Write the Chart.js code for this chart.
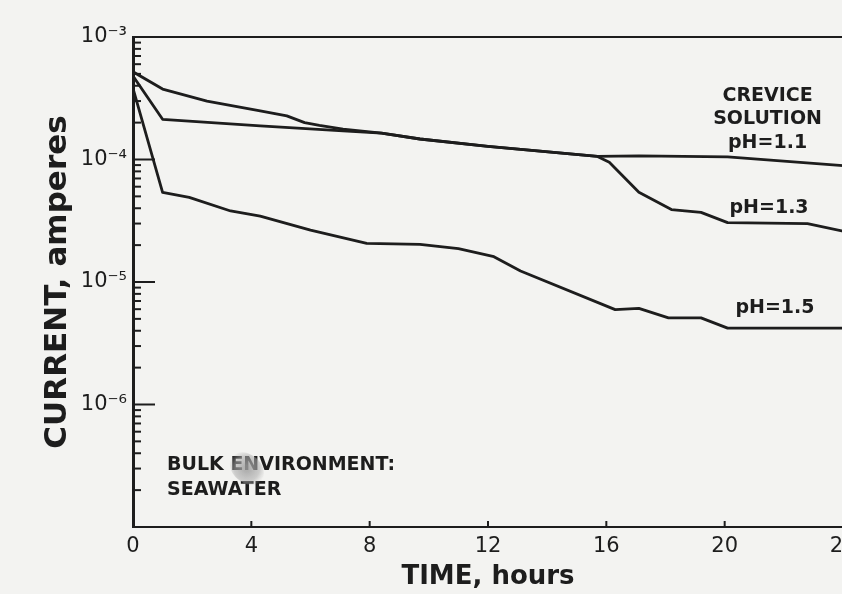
<!DOCTYPE html>
<html>
<head>
<meta charset="utf-8">
<script src="https://cdn.jsdelivr.net/npm/chart.js@4.4.1/dist/chart.umd.min.js"></script>
<style>
  html, body { margin: 0; padding: 0; background: #f3f3f1; overflow: hidden; }
  #wrap { width: 880px; height: 594px; }
</style>
</head>
<body>
<div id="wrap"><canvas id="chart" width="880" height="594"></canvas></div>
<script>
// crevice current vs. time, three crevice solutions (pH 1.1 / 1.3 / 1.5)
const hours11 = [0, 1, 4.3, 7.1, 8.4, 9.7, 12, 15.7, 17.1, 20.1, 24];
const amps11 = [4.8e-4, 2.13e-4, 1.88e-4, 1.71e-4, 1.64e-4, 1.47e-4, 1.28e-4, 1.06e-4, 1.07e-4, 1.05e-4, 8.9e-5];

const hours13 = [0, 1, 2.5, 4.3, 5.2, 5.8, 6.3, 7.1, 8.4, 9.7, 12, 15.7, 16.1, 17.1, 18.2, 19.2, 20.1, 22.8, 24];
const amps13 = [5.2e-4, 3.76e-4, 3.0e-4, 2.49e-4, 2.27e-4, 2.0e-4, 1.9e-4, 1.77e-4, 1.64e-4, 1.47e-4, 1.28e-4, 1.06e-4, 9.5e-5, 5.4e-5, 3.9e-5, 3.7e-5, 3.05e-5, 3.0e-5, 2.6e-5];

const hours15 = [0, 1, 1.9, 3.3, 4.3, 6.0, 7.9, 9.7, 11.0, 12.2, 13.1, 16.3, 17.1, 18.1, 19.2, 20.1, 24];
const amps15 = [3.8e-4, 5.4e-5, 4.9e-5, 3.8e-5, 3.45e-5, 2.65e-5, 2.07e-5, 2.03e-5, 1.87e-5, 1.61e-5, 1.23e-5, 5.95e-6, 6.1e-6, 5.1e-6, 5.1e-6, 4.2e-6, 4.2e-6];

const xTicks = [0, 4, 8, 12, 16, 20, 24];
const yDecades = [1e-7, 1e-6, 1e-5, 1e-4, 1e-3];
const yMantissas = [2, 3, 4, 5, 6, 7, 8, 9];

const INK = '#1d1d1d';
const FONT = "'DejaVu Sans', sans-serif";

const supers = { '-': '\u207B', '0': '\u2070', '1': '\u00B9', '2': '\u00B2', '3': '\u00B3',
  '4': '\u2074', '5': '\u2075', '6': '\u2076', '7': '\u2077', '8': '\u2078', '9': '\u2079' };

// the bottom decade carries a tick but no label
function decadeLabel(v) {
  const e = Math.round(Math.log10(v));
  if (e <= -7) return '';
  return '10' + String(e).split('').map(c => supers[c]).join('');
}

function toPoints(xs, ys) {
  return xs.map((x, i) => ({ x: x, y: ys[i] }));
}

// lettering placed in data coordinates (hours, amperes)
const notes = [
  { text: 'CREVICE', h: 21.45, a: 3.29e-4, align: 'center' },
  { text: 'SOLUTION', h: 21.45, a: 2.13e-4, align: 'center' },
  { text: 'pH=1.1', h: 21.45, a: 1.36e-4, align: 'center' },
  { text: 'pH=1.3', h: 21.5, a: 4.03e-5, align: 'center' },
  { text: 'pH=1.5', h: 21.7, a: 6.07e-6, align: 'center' },
  { text: 'BULK ENVIRONMENT:', h: 1.15, a: 3.21e-7, align: 'left' },
  { text: 'SEAWATER', h: 1.15, a: 2.01e-7, align: 'left' }
];

function line(ctx, x1, y1, x2, y2) {
  ctx.beginPath();
  ctx.moveTo(x1, y1);
  ctx.lineTo(x2, y2);
  ctx.stroke();
}

const framePlugin = {
  id: 'frame',
  afterDraw(chart) {
    const { ctx, chartArea: a, scales: { x, y } } = chart;
    ctx.save();
    ctx.strokeStyle = INK;
    ctx.lineCap = 'butt';

    // top edge of the box
    ctx.lineWidth = 2;
    line(ctx, a.left, a.top, a.right, a.top);

    // inward tick marks on the current axis
    yDecades.forEach((d, i) => {
      const py = y.getPixelForValue(d);
      line(ctx, a.left, py, a.left + 22, py);
      if (i < yDecades.length - 1) {
        yMantissas.forEach(m => {
          const pm = y.getPixelForValue(m * d);
          line(ctx, a.left, pm, a.left + 8, pm);
        });
      }
    });

    // inward tick marks on the time axis
    xTicks.forEach(t => {
      if (t === 0) return;
      const px = x.getPixelForValue(t);
      line(ctx, px, a.bottom, px, a.bottom - 6);
    });

    // lettering
    ctx.fillStyle = INK;
    ctx.font = 'bold 19px ' + FONT;
    ctx.textBaseline = 'middle';
    notes.forEach(n => {
      ctx.textAlign = n.align;
      ctx.fillText(n.text, x.getPixelForValue(n.h), y.getPixelForValue(n.a));
    });

    // grey smudge over the lettering
    const sx = x.getPixelForValue(3.85);
    const sy = y.getPixelForValue(3.0e-7);
    const g = ctx.createRadialGradient(sx, sy, 3, sx, sy, 19);
    g.addColorStop(0, 'rgba(160,160,160,0.8)');
    g.addColorStop(0.6, 'rgba(170,170,170,0.55)');
    g.addColorStop(1, 'rgba(180,180,180,0)');
    ctx.fillStyle = g;
    ctx.beginPath();
    ctx.ellipse(sx, sy, 19, 14, 0.7, 0, Math.PI * 2);
    ctx.fill();

    ctx.restore();
  }
};

const seriesStyle = {
  borderColor: INK,
  borderWidth: 2.8,
  pointRadius: 0,
  fill: false,
  tension: 0,
  borderJoinStyle: 'round',
  borderCapStyle: 'round'
};

new Chart(document.getElementById('chart'), {
  type: 'line',
  data: {
    datasets: [
      Object.assign({ label: 'pH=1.1', data: toPoints(hours11, amps11) }, seriesStyle),
      Object.assign({ label: 'pH=1.3', data: toPoints(hours13, amps13) }, seriesStyle),
      Object.assign({ label: 'pH=1.5', data: toPoints(hours15, amps15) }, seriesStyle)
    ]
  },
  options: {
    responsive: false,
    animation: false,
    layout: { padding: { left: 0, top: 37, right: 37, bottom: 0 } },
    plugins: {
      legend: { display: false },
      tooltip: { enabled: false }
    },
    scales: {
      x: {
        type: 'linear',
        min: 0,
        max: 24,
        afterBuildTicks: s => { s.ticks = xTicks.map(v => ({ value: v })); },
        afterFit: s => { s.height = 67; },
        grid: { display: false, drawTicks: false },
        border: { display: true, color: INK, width: 2 },
        ticks: { padding: 7, color: INK, font: { family: FONT, size: 21 }, maxRotation: 0, autoSkip: false },
        title: { display: true, text: 'TIME, hours', color: INK, font: { family: FONT, size: 26, weight: 'bold' }, padding: { top: 0, bottom: 1 } }
      },
      y: {
        type: 'logarithmic',
        min: 1e-7,
        max: 1e-3,
        afterBuildTicks: s => { s.ticks = yDecades.map(v => ({ value: v })); },
        afterFit: s => { s.width = 133; },
        grid: { display: false, drawTicks: false },
        border: { display: true, color: INK, width: 3 },
        ticks: { padding: 6, color: INK, font: { family: FONT, size: 21 }, autoSkip: false, callback: v => decadeLabel(v) },
        title: { display: true, text: 'CURRENT, amperes', color: INK, font: { family: FONT, size: 31, weight: 'bold' }, padding: { top: 39, bottom: 0 } }
      }
    }
  },
  plugins: [framePlugin]
});
</script>
</body>
</html>
